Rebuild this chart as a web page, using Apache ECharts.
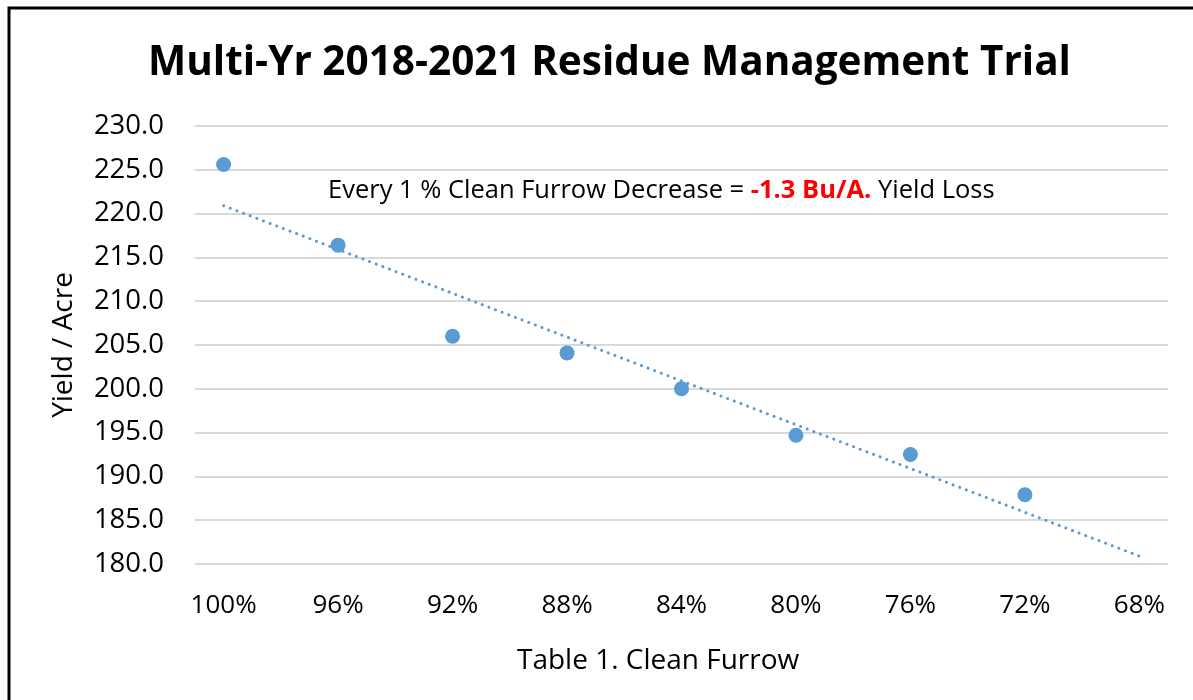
<!DOCTYPE html>
<html>
<head>
<meta charset="utf-8">
<script src="https://cdn.jsdelivr.net/npm/echarts@6/dist/echarts.min.js"></script>
<style>
	html, body { margin: 0; padding: 0; background: #fff; }
	#chart { width: 1193px; height: 700px; }
</style>
</head>
<body>
<div id="chart"></div>
<script>
	// 数据
	const categories = ['100%', '96%', '92%', '88%', '84%', '80%', '76%', '72%', '68%'];
	const yields = [225.6, 216.4, 206.0, 204.1, 200.0, 194.7, 192.5, 187.9];
	const trendX = [0, 8];
	const trendY = [220.9, 180.9];
	const yTicks = { min: 180, max: 230, step: 5 };

	const font = '"Open Sans", "Noto Sans", sans-serif';
	const blue = '#5B9BD5';

	const myChart = echarts.init(document.getElementById('chart'));
	const option = {
		animation: false,
		backgroundColor: '#fff',
		title: {
			text: 'Multi-Yr 2018-2021 Residue Management Trial',
			left: 143,
			top: 38,
			textStyle: { fontFamily: font, fontWeight: 'bold', fontSize: 40.5, color: '#000' }
		},
		graphic: [{
			type: 'rect',
			shape: { x: 9, y: 8, width: 1300, height: 800 },
			style: { fill: 'none', stroke: '#000', lineWidth: 3 },
			silent: true
		}, {
			type: 'text',
			left: 328,
			top: 178,
			style: {
				text: 'Every 1 % Clean Furrow Decrease = {r|-1.3 Bu/A.} Yield Loss',
				fontFamily: font,
				fontSize: 25.5,
				fill: '#000',
				rich: {
					r: { fontFamily: font, fontSize: 25.5, fontWeight: 'bold', fill: '#FF0000', color: '#FF0000' }
				}
			}
		}, {
			// 横轴标题
			type: 'text',
			left: 517,
			top: 647,
			style: {
				text: 'Table 1. Clean Furrow',
				fontFamily: font,
				fontSize: 28,
				fill: '#000'
			}
		}],
		grid: { left: 195, right: 25, top: 126, bottom: 136 },
		xAxis: {
			type: 'value',
			min: -0.25,
			max: 8.25,
			axisLine: { show: false },
			axisTick: { show: false },
			splitLine: { show: false },
			axisLabel: {
				customValues: categories.map((c, i) => i),
				formatter: v => categories[Math.round(v)],
				fontFamily: font,
				fontSize: 26,
				color: '#000',
				margin: 29
			}
		},
		yAxis: {
			type: 'value',
			min: yTicks.min,
			max: yTicks.max,
			interval: yTicks.step,
			name: 'Yield / Acre',
			nameLocation: 'middle',
			nameGap: 117,
			nameTextStyle: { fontFamily: font, fontSize: 28, color: '#000' },
			axisLine: { show: false },
			axisTick: { show: false },
			axisLabel: {
				formatter: v => v.toFixed(1),
				fontFamily: font,
				fontSize: 27.5,
				color: '#000',
				margin: 31
			},
			splitLine: { lineStyle: { color: '#d9d9d9', width: 2 } }
		},
		series: [{
			name: 'Trend',
			type: 'line',
			data: trendX.map((x, i) => [x, trendY[i]]),
			symbol: 'none',
			lineStyle: { color: blue, width: 3, type: [0.1, 7], cap: 'round' },
			z: 2
		}, {
			name: 'Yield',
			type: 'scatter',
			data: yields.map((v, i) => [i, v]),
			symbolSize: 15,
			itemStyle: { color: blue, opacity: 1 },
			z: 3
		}]
	};
	myChart.setOption(option);
</script>
</body>
</html>
